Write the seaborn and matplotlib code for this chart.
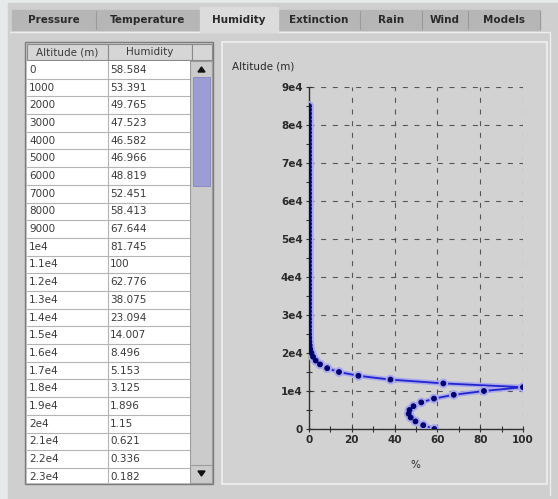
import matplotlib
matplotlib.use("Agg")
import matplotlib.pyplot as plt
import matplotlib.patheffects as pe
from matplotlib.patches import Rectangle, Polygon
from matplotlib.ticker import MultipleLocator
import seaborn as sns
import pandas as pd

# ---------------- data ----------------
tab_names = ["Pressure", "Temperature", "Humidity", "Extinction", "Rain", "Wind", "Models"]
selected_tab = "Humidity"
table_headers = ["Altitude (m)", "Humidity"]

altitude_m = [0, 1000, 2000, 3000, 4000, 5000, 6000, 7000, 8000, 9000,
              10000, 11000, 12000, 13000, 14000, 15000, 16000, 17000, 18000, 19000,
              20000, 21000, 22000, 23000, 24000, 25000, 26000, 27000, 28000, 29000,
              30000, 31000, 32000, 33000, 34000, 35000, 36000, 37000, 38000, 39000,
              40000, 41000, 42000, 43000, 44000, 45000, 46000, 47000, 48000, 49000,
              50000, 51000, 52000, 53000, 54000, 55000, 56000, 57000, 58000, 59000,
              60000, 61000, 62000, 63000, 64000, 65000, 66000, 67000, 68000, 69000,
              70000, 71000, 72000, 73000, 74000, 75000, 76000, 77000, 78000, 79000,
              80000, 81000, 82000, 83000, 84000, 85000]
humidity_pct = [58.584, 53.391, 49.765, 47.523, 46.582, 46.966, 48.819, 52.451, 58.413, 67.644,
                81.745, 100, 62.776, 38.075, 23.094, 14.007, 8.496, 5.153, 3.125, 1.896,
                1.15, 0.621, 0.336, 0.182, 0.098, 0.053, 0.029, 0.016, 0.009, 0.005,
                0.003, 0.002, 0.001, 0.001, 0.0, 0.0, 0.0, 0.0, 0.0, 0.0,
                0.0, 0.0, 0.0, 0.0, 0.0, 0.0, 0.0, 0.0, 0.0, 0.0,
                0.0, 0.0, 0.0, 0.0, 0.0, 0.0, 0.0, 0.0, 0.0, 0.0,
                0.0, 0.0, 0.0, 0.0, 0.0, 0.0, 0.0, 0.0, 0.0, 0.0,
                0.0, 0.0, 0.0, 0.0, 0.0, 0.0, 0.0, 0.0, 0.0, 0.0,
                0.0, 0.0, 0.0, 0.0, 0.0, 0.0]
visible_table_rows = 24  # rows shown in the scrolled table view

x_ticks = [0, 20, 40, 60, 80, 100]
x_tick_labels = ["0", "20", "40", "60", "80", "100"]
y_ticks = [0, 10000, 20000, 30000, 40000, 50000, 60000, 70000, 80000, 90000]
y_tick_labels = ["0", "1e4", "2e4", "3e4", "4e4", "5e4", "6e4", "7e4", "8e4", "9e4"]
x_label = "%"
y_label = "Altitude (m)"

# ---------------- style ----------------
W, H = 558, 499
PANEL = "#cfcfcf"
TAB = "#b6b6b6"
TAB_SEL = "#dcdcdc"
TXT = "#2a2a2a"

sns.set_theme(style="white")
plt.rcParams["font.family"] = ["DejaVu Sans"]

fig = plt.figure(figsize=(W / 100, H / 100), dpi=100)
fig.patch.set_facecolor("#e6eaea")


def fr(x0, y0, x1, y1):
    return [x0 / W, 1 - y1 / H, (x1 - x0) / W, (y1 - y0) / H]


# background / GUI chrome (pixel coordinates)
bg = fig.add_axes([0, 0, 1, 1])
bg.set_xlim(0, W)
bg.set_ylim(H, 0)
bg.axis("off")
bg.add_patch(Rectangle((8, 3), W - 8, H - 3, color=PANEL, zorder=0))

# tabs
tab_edges = [12, 96, 200, 278, 360, 422, 468, 540]
bg.add_patch(Rectangle((12, 10), 528, 20, color=TAB, zorder=1))
for i, name in enumerate(tab_names):
    x0, x1 = tab_edges[i], tab_edges[i + 1]
    if name == selected_tab:
        bg.add_patch(Rectangle((x0, 7), x1 - x0, 25, color=TAB_SEL, zorder=2))
    else:
        bg.plot([x1, x1], [11, 29], color="#9a9a9a", lw=0.8, zorder=2)
    bg.text((x0 + x1) / 2, 20, name, ha="center", va="center", fontsize=7.5,
            fontweight="bold", color=TXT, zorder=3)
bg.plot([10, 550], [31.5, 31.5], color="#eeeeee", lw=1, zorder=1)
bg.plot([550, 550], [31.5, 495], color="#eeeeee", lw=1, zorder=1)

# table frame + header
bg.add_patch(Rectangle((25, 42), 188, 442, facecolor=PANEL, edgecolor="#7a7a7a", lw=1, zorder=1))
bg.add_patch(Rectangle((27, 44), 81, 16, facecolor="#d6d6d6", edgecolor="#8a8a8a", lw=0.8, zorder=2))
bg.add_patch(Rectangle((108, 44), 84, 16, facecolor="#d6d6d6", edgecolor="#8a8a8a", lw=0.8, zorder=2))
bg.add_patch(Rectangle((192, 44), 20, 16, facecolor="#d6d6d6", edgecolor="#8a8a8a", lw=0.8, zorder=2))
bg.text(67.5, 52, table_headers[0], ha="center", va="center", fontsize=7.5, color="#3a3a3a", zorder=3)
bg.text(150, 52, table_headers[1], ha="center", va="center", fontsize=7.5, color="#3a3a3a", zorder=3)

# scrollbar
bg.add_patch(Rectangle((190, 61), 22, 422, facecolor="#cbcbcb", edgecolor="#9a9a9a", lw=0.8, zorder=2))
bg.add_patch(Rectangle((193, 77), 17, 109, facecolor="#9d9dd6", edgecolor="#8686c4", lw=0.6, zorder=3))
bg.add_patch(Polygon([[198, 72], [205, 72], [201.5, 67]], color="#111111", zorder=3))
bg.add_patch(Polygon([[198, 471], [205, 471], [201.5, 476]], color="#111111", zorder=3))
bg.plot([191, 211], [465, 465], color="#9a9a9a", lw=0.8, zorder=3)

# chart panel
bg.add_patch(Rectangle((222, 42), 325, 442, facecolor="#d2d2d2", edgecolor="#f0f0f0", lw=1.2, zorder=1))

# ---------------- table body ----------------
tbl = fig.add_axes(fr(27, 61, 190, 483))
tbl.set_xlim(0, 163)
tbl.set_ylim(23.35, -0.5)
tbl.set_facecolor("white")
for s in tbl.spines.values():
    s.set_visible(False)
tbl.set_xticks([])
tbl.set_yticks([])


def alt_label(a):
    return str(a) if a < 10000 else f"{a / 10000:g}e4"


rows = list(zip(altitude_m, humidity_pct))[:visible_table_rows]
for i, (a, h) in enumerate(rows):
    tbl.axhline(i + 0.5, color="#b4b4b4", lw=0.8)
    tbl.text(2, i, alt_label(a), va="center", ha="left", fontsize=7.5, color="#3a3a3a")
    tbl.text(83, i, f"{h:g}", va="center", ha="left", fontsize=7.5, color="#3a3a3a")
tbl.axvline(81, color="#b4b4b4", lw=0.8)

# ---------------- chart ----------------
ax = fig.add_axes(fr(309, 87, 523, 429))
ax.set_facecolor("none")
df = pd.DataFrame({"Humidity (%)": humidity_pct, "Altitude (m)": altitude_m})
sns.lineplot(data=df, x="Humidity (%)", y="Altitude (m)", sort=False, estimator=None, ax=ax,
             color="#2424cc", lw=1.3, marker="o", markersize=3.4,
             markerfacecolor="#00006e", markeredgecolor="#00006e", zorder=5,
             path_effects=[pe.Stroke(linewidth=3.6, foreground="#a9a9ec"), pe.Normal()])

ax.set_xlim(0, 100)
ax.set_ylim(0, 90000)
ax.set_xticks(x_ticks)
ax.set_xticklabels(x_tick_labels)
ax.set_yticks(y_ticks)
ax.set_yticklabels(y_tick_labels)
ax.xaxis.set_minor_locator(MultipleLocator(10))
ax.yaxis.set_minor_locator(MultipleLocator(5000))
ax.tick_params(which="both", direction="inout", length=5, width=0.8, color="#303030",
               labelsize=7.5, labelcolor=TXT, pad=2, bottom=True, left=True)
for lbl in ax.get_xticklabels() + ax.get_yticklabels():
    lbl.set_fontweight("bold")
ax.grid(True, which="major", color="#555555", lw=0.8, linestyle=(0, (4.5, 6)))
ax.set_axisbelow(True)
for side in ["top", "right"]:
    ax.spines[side].set_visible(False)
for side in ["left", "bottom"]:
    ax.spines[side].set_color("#303030")
    ax.spines[side].set_linewidth(1.0)

ax.set_xlabel(x_label, fontsize=7.5, color=TXT)
ax.xaxis.set_label_coords(0.495, -0.09)
ax.set_ylabel(y_label, rotation=0, fontsize=7.5, color=TXT, ha="left", va="center")
ax.yaxis.set_label_coords(-0.36, 1.061)

fig.savefig("out.png", dpi=100, facecolor=fig.get_facecolor())
